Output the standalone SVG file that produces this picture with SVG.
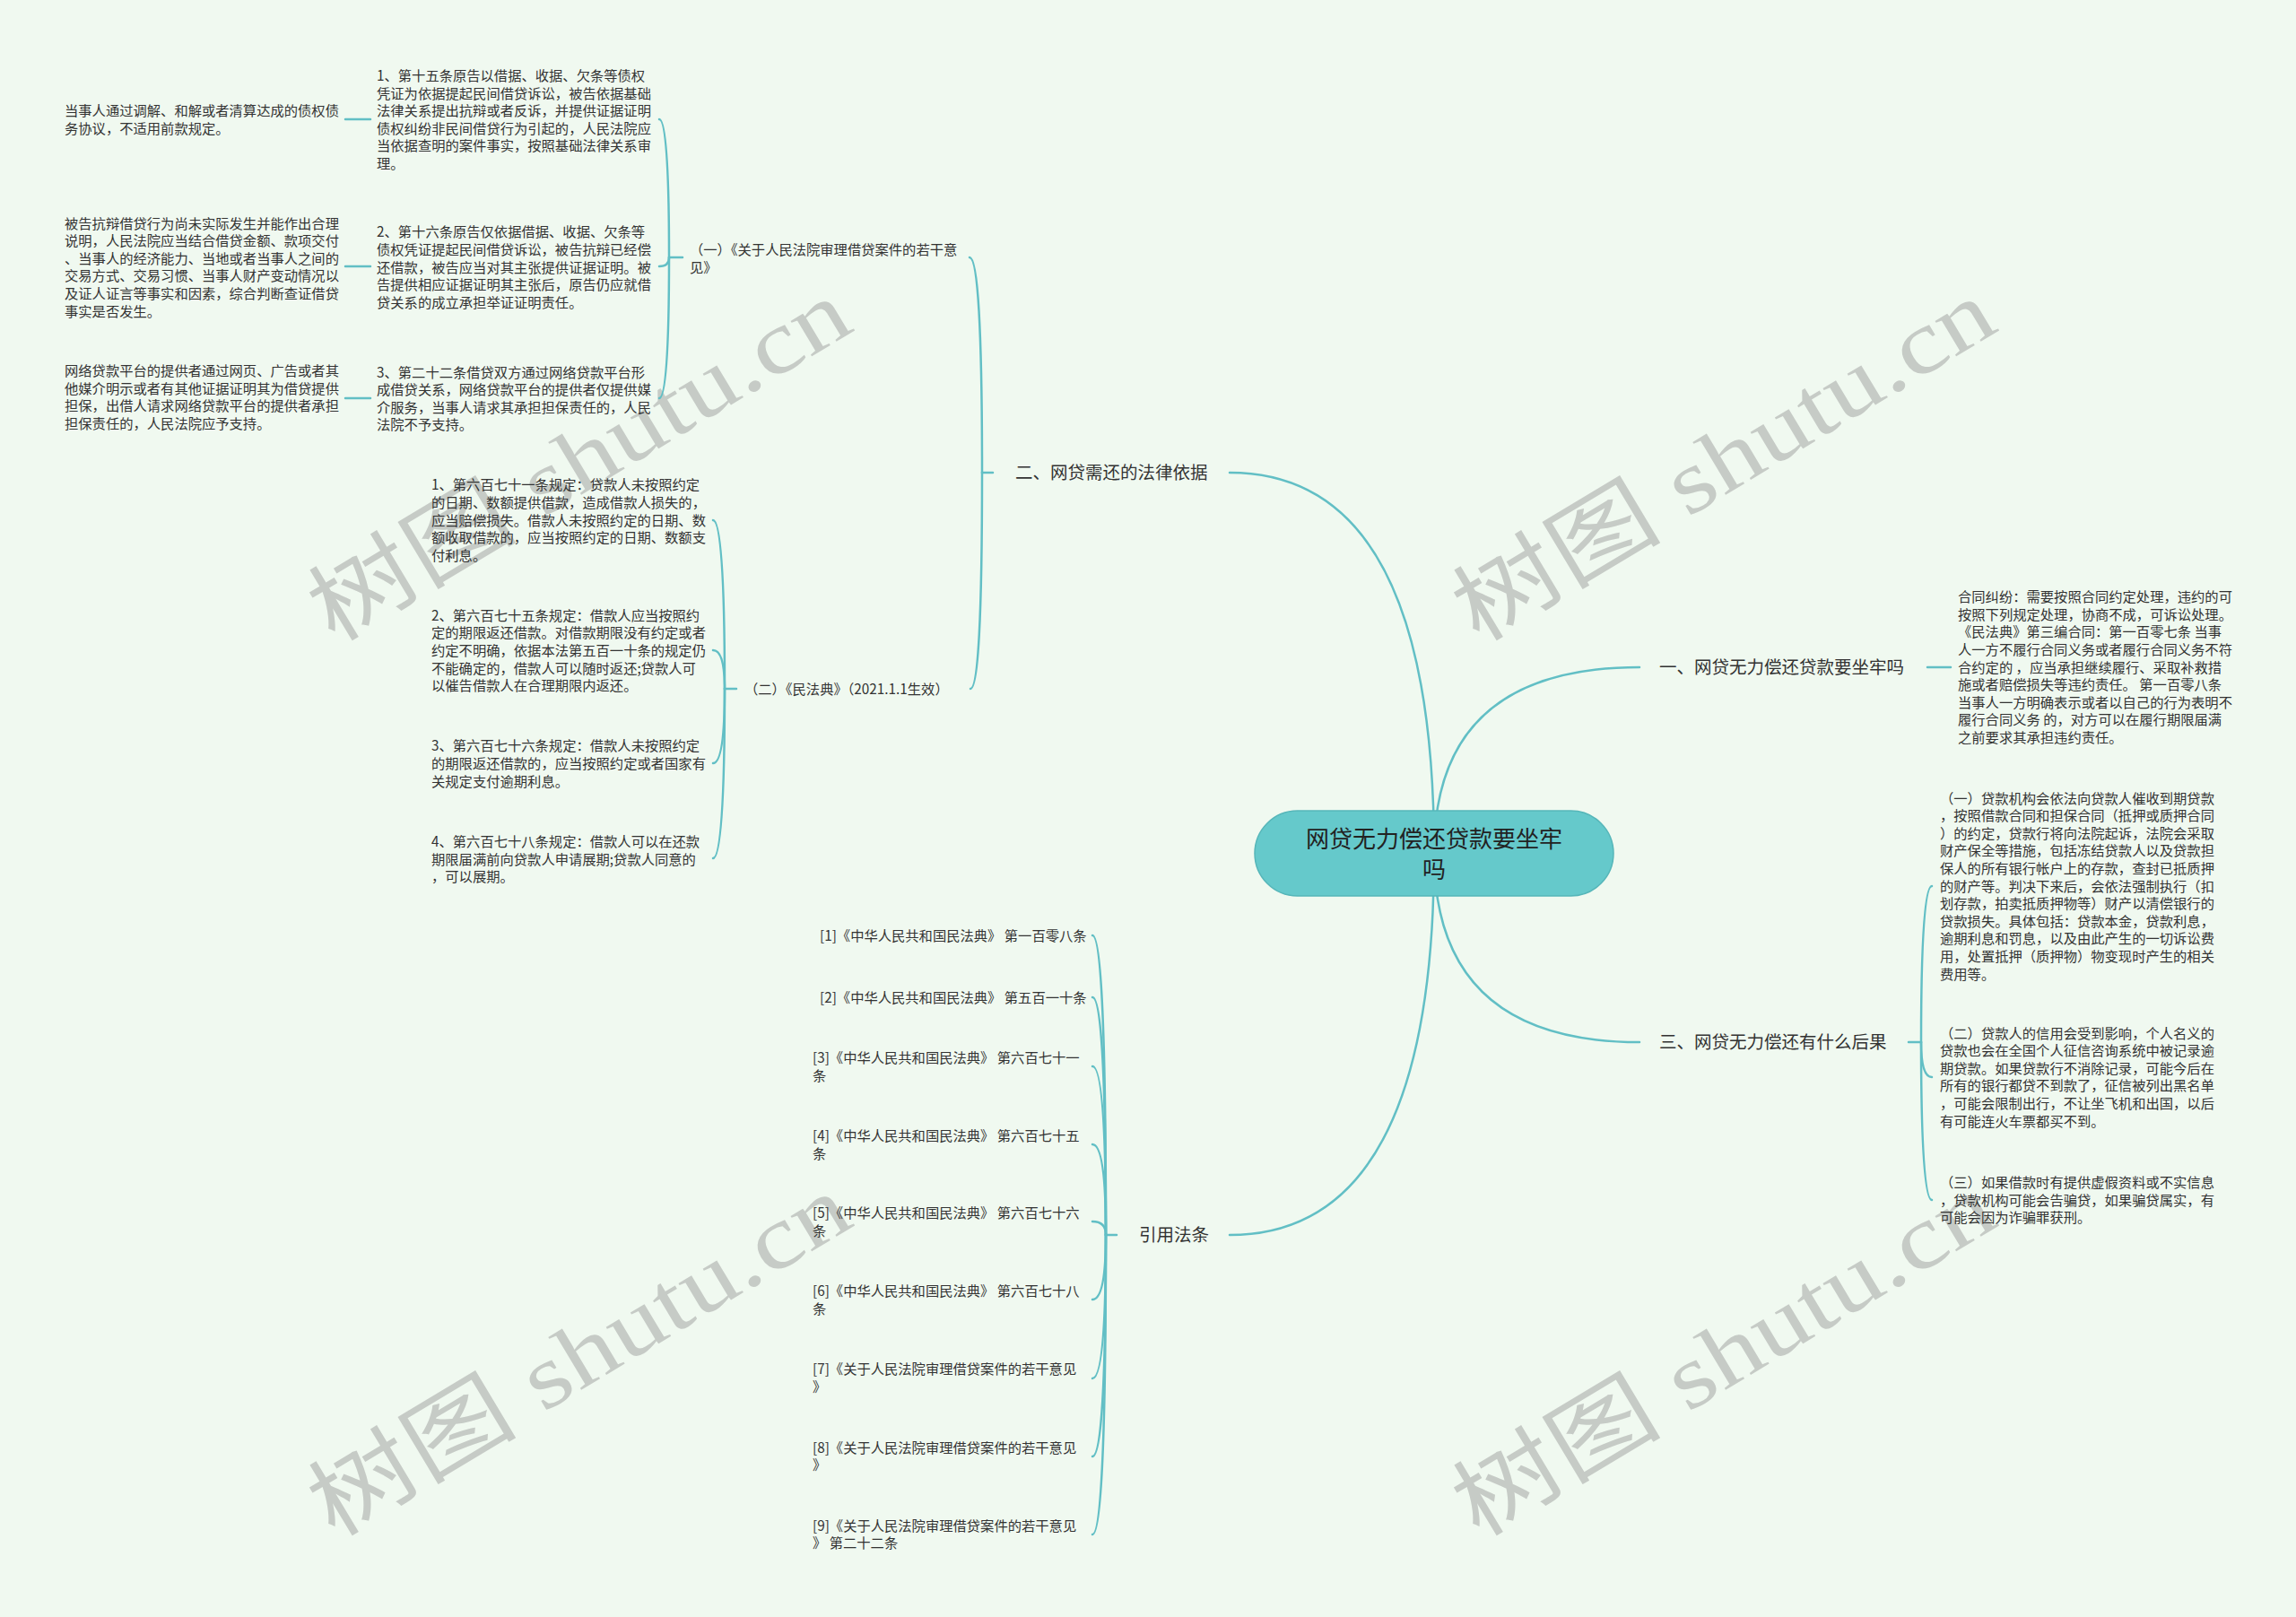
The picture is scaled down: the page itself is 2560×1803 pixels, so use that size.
<svg xmlns="http://www.w3.org/2000/svg" width="2560" height="1803" viewBox="0 0 2560 1803">
<style>
.t{font-family:"Noto Sans CJK SC","Liberation Sans",sans-serif;font-size:15.3px;fill:#333}
.l1{font-family:"Noto Sans CJK SC","Liberation Sans",sans-serif;font-size:19.5px;fill:#333}
.c{font-family:"Noto Sans CJK SC","Liberation Sans",sans-serif;font-size:26px;fill:#222}
.ln{fill:none;stroke:#62BFC5;stroke-width:2.5;stroke-linecap:round}
.wm{font-family:"Liberation Serif","Noto Sans CJK SC",serif;font-size:100px;fill:#c6cbc6}
</style>
<rect x="0" y="0" width="2560" height="1803" fill="#F0F9F0"/>
<g id="watermarks">
<text class="wm" x="646" y="514" text-anchor="middle" dominant-baseline="central" textLength="680" lengthAdjust="spacingAndGlyphs" transform="rotate(-31 646 514)">树图 shutu.cn</text>
<text class="wm" x="1922" y="514" text-anchor="middle" dominant-baseline="central" textLength="680" lengthAdjust="spacingAndGlyphs" transform="rotate(-31 1922 514)">树图 shutu.cn</text>
<text class="wm" x="646" y="1512" text-anchor="middle" dominant-baseline="central" textLength="680" lengthAdjust="spacingAndGlyphs" transform="rotate(-31 646 1512)">树图 shutu.cn</text>
<text class="wm" x="1922" y="1512" text-anchor="middle" dominant-baseline="central" textLength="680" lengthAdjust="spacingAndGlyphs" transform="rotate(-31 1922 1512)">树图 shutu.cn</text>
</g>
<g id="connectors">
<path class="ln" d="M1599,951 Q1599,527 1371,527"/>
<path class="ln" d="M1599,951 Q1599,744 1828,744"/>
<path class="ln" d="M1599,951 Q1599,1162 1828,1162"/>
<path class="ln" d="M1599,951 Q1599,1377 1371,1377"/>
<path class="ln" d="M1107,527 H1095"/>
<path class="ln" d="M1095,527 Q1095,287 1081,287"/>
<path class="ln" d="M1095,527 Q1095,768 1082,768"/>
<path class="ln" d="M761,287 H746"/>
<path class="ln" d="M746,287 Q746,133 735,133"/>
<path class="ln" d="M746,287 Q746,297 735,297"/>
<path class="ln" d="M746,287 Q746,444 735,444"/>
<path class="ln" d="M413,133 H385"/>
<path class="ln" d="M413,297 H385"/>
<path class="ln" d="M413,444 H385"/>
<path class="ln" d="M821,768 H808"/>
<path class="ln" d="M808,768 Q808,580 795,580"/>
<path class="ln" d="M808,768 Q808,725 795,725"/>
<path class="ln" d="M808,768 Q808,851 795,851"/>
<path class="ln" d="M808,768 Q808,957 795,957"/>
<path class="ln" d="M1245,1377 H1233"/>
<path class="ln" d="M1233,1377 Q1233,1043 1218,1043"/>
<path class="ln" d="M1233,1377 Q1233,1112 1218,1112"/>
<path class="ln" d="M1233,1377 Q1233,1189 1218,1189"/>
<path class="ln" d="M1233,1377 Q1233,1276 1218,1276"/>
<path class="ln" d="M1233,1377 Q1233,1362 1218,1362"/>
<path class="ln" d="M1233,1377 Q1233,1449 1218,1449"/>
<path class="ln" d="M1233,1377 Q1233,1537 1218,1537"/>
<path class="ln" d="M1233,1377 Q1233,1624 1218,1624"/>
<path class="ln" d="M1233,1377 Q1233,1711 1218,1711"/>
<path class="ln" d="M2149,744 H2175"/>
<path class="ln" d="M2128,1162 H2142"/>
<path class="ln" d="M2142,1162 Q2142,988 2154,988"/>
<path class="ln" d="M2142,1162 Q2142,1201 2154,1201"/>
<path class="ln" d="M2142,1162 Q2142,1338 2154,1338"/>
</g>
<g id="center">
<rect x="1399" y="904" width="400" height="95" rx="47.5" fill="#65C9CB" stroke="#56B6B9" stroke-width="1.5"/>
<text class="c" text-anchor="middle"><tspan x="1599" y="944.5">网贷无力偿还贷款要坐牢</tspan><tspan x="1599" y="979">吗</tspan></text>
</g>
<g id="n-er">
<text class="l1" x="1132" y="534">二、网贷需还的法律依据</text>
</g>
<g id="n-yi1">
<text class="t"><tspan x="769" y="283.5">（一）《关于人民法院审理借贷案件的若干意</tspan><tspan x="769" y="303.5">见》</tspan></text>
</g>
<g id="n-t1">
<text class="t"><tspan x="420" y="90">1、第十五条原告以借据、收据、欠条等债权</tspan><tspan x="420" y="109.6">凭证为依据提起民间借贷诉讼，被告依据基础</tspan><tspan x="420" y="129.2">法律关系提出抗辩或者反诉，并提供证据证明</tspan><tspan x="420" y="148.8">债权纠纷非民间借贷行为引起的，人民法院应</tspan><tspan x="420" y="168.4">当依据查明的案件事实，按照基础法律关系审</tspan><tspan x="420" y="188">理。</tspan></text>
</g>
<g id="n-a">
<text class="t"><tspan x="72" y="129">当事人通过调解、和解或者清算达成的债权债</tspan><tspan x="72" y="148.5">务协议，不适用前款规定。</tspan></text>
</g>
<g id="n-t2">
<text class="t"><tspan x="420" y="264.3">2、第十六条原告仅依据借据、收据、欠条等</tspan><tspan x="420" y="283.9">债权凭证提起民间借贷诉讼，被告抗辩已经偿</tspan><tspan x="420" y="303.5">还借款，被告应当对其主张提供证据证明。被</tspan><tspan x="420" y="323.1">告提供相应证据证明其主张后，原告仍应就借</tspan><tspan x="420" y="342.7">贷关系的成立承担举证证明责任。</tspan></text>
</g>
<g id="n-b">
<text class="t"><tspan x="72" y="254.5">被告抗辩借贷行为尚未实际发生并能作出合理</tspan><tspan x="72" y="274.1">说明，人民法院应当结合借贷金额、款项交付</tspan><tspan x="72" y="293.7">、当事人的经济能力、当地或者当事人之间的</tspan><tspan x="72" y="313.3">交易方式、交易习惯、当事人财产变动情况以</tspan><tspan x="72" y="332.9">及证人证言等事实和因素，综合判断查证借贷</tspan><tspan x="72" y="352.5">事实是否发生。</tspan></text>
</g>
<g id="n-t3">
<text class="t"><tspan x="420" y="420.6">3、第二十二条借贷双方通过网络贷款平台形</tspan><tspan x="420" y="440.2">成借贷关系，网络贷款平台的提供者仅提供媒</tspan><tspan x="420" y="459.8">介服务，当事人请求其承担担保责任的，人民</tspan><tspan x="420" y="479.4">法院不予支持。</tspan></text>
</g>
<g id="n-c">
<text class="t"><tspan x="72" y="419.1">网络贷款平台的提供者通过网页、广告或者其</tspan><tspan x="72" y="438.7">他媒介明示或者有其他证据证明其为借贷提供</tspan><tspan x="72" y="458.3">担保，出借人请求网络贷款平台的提供者承担</tspan><tspan x="72" y="477.9">担保责任的，人民法院应予支持。</tspan></text>
</g>
<g id="n-er2">
<text class="t" x="830" y="773.5">（二）《民法典》（2021.1.1生效）</text>
</g>
<g id="n-m1">
<text class="t"><tspan x="481" y="546.3">1、第六百七十一条规定：贷款人未按照约定</tspan><tspan x="481" y="565.9">的日期、数额提供借款，造成借款人损失的，</tspan><tspan x="481" y="585.5">应当赔偿损失。借款人未按照约定的日期、数</tspan><tspan x="481" y="605.1">额收取借款的，应当按照约定的日期、数额支</tspan><tspan x="481" y="624.7">付利息。</tspan></text>
</g>
<g id="n-m2">
<text class="t"><tspan x="481" y="691.8">2、第六百七十五条规定：借款人应当按照约</tspan><tspan x="481" y="711.4">定的期限返还借款。对借款期限没有约定或者</tspan><tspan x="481" y="731">约定不明确，依据本法第五百一十条的规定仍</tspan><tspan x="481" y="750.6">不能确定的，借款人可以随时返还;贷款人可</tspan><tspan x="481" y="770.2">以催告借款人在合理期限内返还。</tspan></text>
</g>
<g id="n-m3">
<text class="t"><tspan x="481" y="837.4">3、第六百七十六条规定：借款人未按照约定</tspan><tspan x="481" y="857">的期限返还借款的，应当按照约定或者国家有</tspan><tspan x="481" y="876.6">关规定支付逾期利息。</tspan></text>
</g>
<g id="n-m4">
<text class="t"><tspan x="481" y="943.9">4、第六百七十八条规定：借款人可以在还款</tspan><tspan x="481" y="963.5">期限届满前向贷款人申请展期;贷款人同意的</tspan><tspan x="481" y="983.1">，可以展期。</tspan></text>
</g>
<g id="n-cite">
<text class="l1" x="1270" y="1384">引用法条</text>
</g>
<g id="n-r1"><text class="t" x="914" y="1048.5">[1]《中华人民共和国民法典》 第一百零八条</text></g>
<g id="n-r2"><text class="t" x="914" y="1117.5">[2]《中华人民共和国民法典》 第五百一十条</text></g>
<g id="n-r3"><text class="t"><tspan x="906" y="1185.1">[3]《中华人民共和国民法典》 第六百七十一</tspan><tspan x="906" y="1204.7">条</tspan></text></g>
<g id="n-r4"><text class="t"><tspan x="906" y="1272.3">[4]《中华人民共和国民法典》 第六百七十五</tspan><tspan x="906" y="1291.9">条</tspan></text></g>
<g id="n-r5"><text class="t"><tspan x="906" y="1358.1">[5]《中华人民共和国民法典》 第六百七十六</tspan><tspan x="906" y="1377.7">条</tspan></text></g>
<g id="n-r6"><text class="t"><tspan x="906" y="1445.2">[6]《中华人民共和国民法典》 第六百七十八</tspan><tspan x="906" y="1464.8">条</tspan></text></g>
<g id="n-r7"><text class="t"><tspan x="906" y="1532.4">[7]《关于人民法院审理借贷案件的若干意见</tspan><tspan x="906" y="1552">》</tspan></text></g>
<g id="n-r8"><text class="t"><tspan x="906" y="1619.5">[8]《关于人民法院审理借贷案件的若干意见</tspan><tspan x="906" y="1639.1">》</tspan></text></g>
<g id="n-r9"><text class="t"><tspan x="906" y="1706.5">[9]《关于人民法院审理借贷案件的若干意见</tspan><tspan x="906" y="1726.1">》 第二十二条</tspan></text></g>
<g id="n-yi">
<text class="l1" x="1850" y="751">一、网贷无力偿还贷款要坐牢吗</text>
</g>
<g id="n-yi-c">
<text class="t"><tspan x="2183" y="671.1">合同纠纷：需要按照合同约定处理，违约的可</tspan><tspan x="2183" y="690.7">按照下列规定处理，协商不成，可诉讼处理。</tspan><tspan x="2183" y="710.3">《民法典》第三编合同：第一百零七条 当事</tspan><tspan x="2183" y="729.9">人一方不履行合同义务或者履行合同义务不符</tspan><tspan x="2183" y="749.5">合约定的 ，应当承担继续履行、采取补救措</tspan><tspan x="2183" y="769.1">施或者赔偿损失等违约责任。 第一百零八条</tspan><tspan x="2183" y="788.7">当事人一方明确表示或者以自己的行为表明不</tspan><tspan x="2183" y="808.3">履行合同义务 的，对方可以在履行期限届满</tspan><tspan x="2183" y="827.9">之前要求其承担违约责任。</tspan></text>
</g>
<g id="n-san">
<text class="l1" x="1850" y="1169">三、网贷无力偿还有什么后果</text>
</g>
<g id="n-s1">
<text class="t"><tspan x="2163" y="895.5">（一）贷款机构会依法向贷款人催收到期贷款</tspan><tspan x="2163" y="915.1">，按照借款合同和担保合同（抵押或质押合同</tspan><tspan x="2163" y="934.7">）的约定，贷款行将向法院起诉，法院会采取</tspan><tspan x="2163" y="954.3">财产保全等措施，包括冻结贷款人以及贷款担</tspan><tspan x="2163" y="973.9">保人的所有银行帐户上的存款，查封已抵质押</tspan><tspan x="2163" y="993.5">的财产等。判决下来后，会依法强制执行（扣</tspan><tspan x="2163" y="1013.1">划存款，拍卖抵质押物等）财产以清偿银行的</tspan><tspan x="2163" y="1032.7">贷款损失。具体包括：贷款本金，贷款利息，</tspan><tspan x="2163" y="1052.3">逾期利息和罚息，以及由此产生的一切诉讼费</tspan><tspan x="2163" y="1071.9">用，处置抵押（质押物）物变现时产生的相关</tspan><tspan x="2163" y="1091.5">费用等。</tspan></text>
</g>
<g id="n-s2">
<text class="t"><tspan x="2163" y="1157.5">（二）贷款人的信用会受到影响，个人名义的</tspan><tspan x="2163" y="1177.1">贷款也会在全国个人征信咨询系统中被记录逾</tspan><tspan x="2163" y="1196.7">期贷款。如果贷款行不消除记录，可能今后在</tspan><tspan x="2163" y="1216.3">所有的银行都贷不到款了，征信被列出黑名单</tspan><tspan x="2163" y="1235.9">，可能会限制出行，不让坐飞机和出国，以后</tspan><tspan x="2163" y="1255.5">有可能连火车票都买不到。</tspan></text>
</g>
<g id="n-s3">
<text class="t"><tspan x="2163" y="1323.9">（三）如果借款时有提供虚假资料或不实信息</tspan><tspan x="2163" y="1343.5">，贷款机构可能会告骗贷，如果骗贷属实，有</tspan><tspan x="2163" y="1363.1">可能会因为诈骗罪获刑。</tspan></text>
</g>
</svg>
